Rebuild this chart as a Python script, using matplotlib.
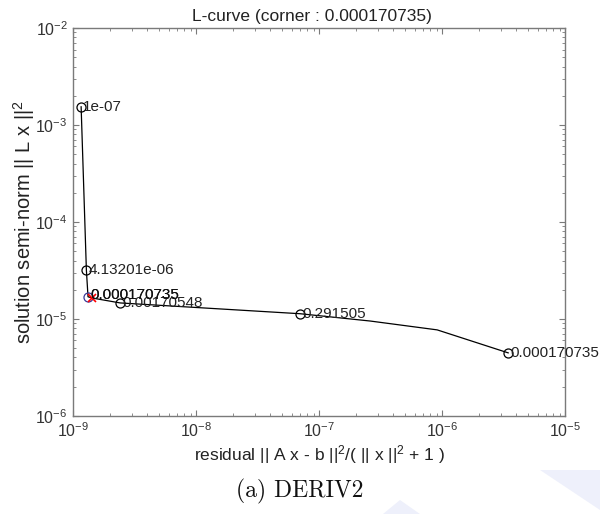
import matplotlib
matplotlib.use("Agg")
from matplotlib import pyplot as plt
from matplotlib.patches import Polygon
from matplotlib.ticker import LogLocator, NullFormatter

plt.rcParams['font.family'] = ['Liberation Sans', 'DejaVu Sans']
plt.rcParams['mathtext.default'] = 'regular'
plt.rcParams['axes.unicode_minus'] = False

# L-curve points (residual norm, solution semi-norm)
rho = [1.16e-9, 1.28e-9, 1.32e-9, 1.43e-9, 2.41e-9, 7.0e-8, 2.6e-7, 9.1e-7, 3.44e-6]
eta = [1.54e-3, 3.17e-5, 1.69e-5, 1.64e-5, 1.46e-5, 1.13e-5, 9.5e-6, 7.7e-6, 4.46e-6]

# labelled points
label_idx = [0, 1, 4, 5, 8]
label_txt = ["1e-07", "4.13201e-06", "0.00170548", "0.291505", "0.000170735"]

corner_idx = 2
corner_mark_idx = 3
corner_txt = "0.000170735"

fig = plt.figure(figsize=(6.0, 5.14), dpi=100)
ax = fig.add_axes([0.122, 0.191, 0.82, 0.7545])

ax.plot(rho, eta, color="black", linewidth=0.9)
ax.plot([rho[i] for i in label_idx], [eta[i] for i in label_idx], linestyle="none",
        marker="o", markersize=6.5, markerfacecolor="none", markeredgecolor="black",
        markeredgewidth=0.9)
for i, t in zip(label_idx, label_txt):
    ax.annotate(t, (rho[i], eta[i]), xytext=(1.5, 0), textcoords="offset points",
                va="center", ha="left", fontsize=11, color="#222222")

ax.plot(rho[corner_idx], eta[corner_idx], marker="o", markersize=6.5, markerfacecolor="none",
        markeredgecolor="#3a3a9a", markeredgewidth=0.9)
ax.plot(rho[corner_mark_idx], eta[corner_mark_idx], marker="x", markersize=6,
        color="red", markeredgewidth=1.2)
for dx in (1.5, 1.9):
    ax.annotate(corner_txt, (rho[corner_idx], eta[corner_idx]), xytext=(dx, 1.5),
                textcoords="offset points", va="center", ha="left", fontsize=11,
                color="#111111")

ax.set_xscale("log")
ax.set_yscale("log")
ax.set_xlim(1e-9, 1e-5)
ax.set_ylim(1e-6, 1e-2)
ax.xaxis.set_major_locator(LogLocator(base=10, numticks=10))
ax.yaxis.set_major_locator(LogLocator(base=10, numticks=10))
ax.xaxis.set_minor_locator(LogLocator(base=10, subs=range(2, 10), numticks=10))
ax.yaxis.set_minor_locator(LogLocator(base=10, subs=range(2, 10), numticks=10))
ax.xaxis.set_minor_formatter(NullFormatter())
ax.yaxis.set_minor_formatter(NullFormatter())

edge = "#7a7a7a"
for s in ax.spines.values():
    s.set_color(edge)
    s.set_linewidth(1.0)
ax.tick_params(which="major", direction="in", top=True, right=True, colors=edge,
               labelcolor="#333333", labelsize=11.5, length=4, pad=4)
ax.tick_params(which="minor", direction="in", top=True, right=True, colors=edge,
               length=2.5)

ax.set_title("L-curve (corner : 0.000170735)", fontsize=12.5, color="#222222", pad=5, x=0.485)
ax.set_xlabel("residual || A x - b ||$^2$/( || x ||$^2$ + 1 )", fontsize=12.5,
              color="#222222", labelpad=2)
ax.set_ylabel("solution semi-norm || L x ||$^2$", fontsize=14.5, color="#222222", labelpad=-1)

fig.text(0.5, 0.043, "(a) DERIV2", ha="center", va="center", fontsize=17,
         family="cmr10", color="#111111")

# faint background watermark shapes
W, H = 600.0, 514.0
def px(pts):
    return [(x / W, 1 - y / H) for x, y in pts]

for pts in ([(540, 470), (600, 470), (600, 510)], [(383, 514), (400, 500), (420, 514)]):
    fig.patches.append(Polygon(px(pts), closed=True, transform=fig.transFigure,
                               facecolor="#eef0fb", edgecolor="none", zorder=-1))

plt.savefig("out.png", dpi=100)
